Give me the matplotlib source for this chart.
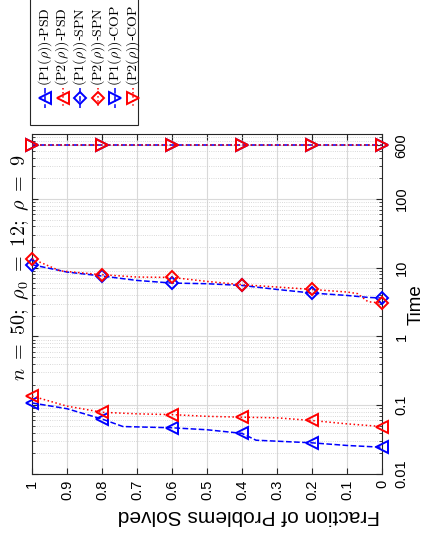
import numpy as np
import matplotlib
matplotlib.use('Agg')
import matplotlib.pyplot as plt
from matplotlib.lines import Line2D
from matplotlib.patches import Rectangle
from matplotlib.ticker import FixedLocator, NullFormatter

plt.rcParams['mathtext.fontset'] = 'cm'
plt.rcParams['font.family'] = ['Liberation Sans', 'DejaVu Sans']

# performance profile, drawn already turned on its side
# (fraction solved runs right->left, time runs bottom->top)
psd1_frac = [1, 0.9, 0.8, 0.74, 0.6, 0.5, 0.4, 0.36, 0.3, 0.2, 0.1, 0]
psd1_time = [0.108, 0.089, 0.063, 0.049, 0.047, 0.044, 0.039, 0.031, 0.030, 0.0284, 0.026, 0.0245]

psd2_frac = [1, 0.9, 0.8, 0.7, 0.6, 0.5, 0.4, 0.3, 0.2, 0.1, 0]
psd2_time = [0.136, 0.097, 0.079, 0.075, 0.073, 0.069, 0.067, 0.0656, 0.060, 0.0536, 0.049]

spn1_frac = [1, 0.9, 0.8, 0.7, 0.6, 0.5, 0.4, 0.3, 0.2, 0.1, 0.04, 0]
spn1_time = [11.06, 8.65, 7.57, 6.53, 5.98, 5.85, 5.52, 4.83, 4.28, 3.95, 3.7, 3.62]

spn2_frac = [1, 0.92, 0.8, 0.7, 0.6, 0.5, 0.4, 0.3, 0.2, 0.1, 0.07, 0.04, 0]
spn2_time = [13.5, 9.0, 7.91, 7.32, 7.22, 6.32, 5.66, 5.24, 4.83, 4.43, 4.2, 3.2, 3.06]

cop1_frac = [1, 0.8, 0.6, 0.4, 0.2, 0]
cop1_time = [600, 600, 600, 600, 600, 600]
cop2_frac = [1, 0.8, 0.6, 0.4, 0.2, 0]
cop2_time = [600, 600, 600, 600, 600, 600]

labels = [r'$\mathrm{(P1(}\rho\mathrm{))}$-$\mathrm{PSD}$',
          r'$\mathrm{(P2(}\rho\mathrm{))}$-$\mathrm{PSD}$',
          r'$\mathrm{(P1(}\rho\mathrm{))}$-$\mathrm{SPN}$',
          r'$\mathrm{(P2(}\rho\mathrm{))}$-$\mathrm{SPN}$',
          r'$\mathrm{(P1(}\rho\mathrm{))}$-$\mathrm{COP}$',
          r'$\mathrm{(P2(}\rho\mathrm{))}$-$\mathrm{COP}$']

series = [(psd1_frac, psd1_time, 'b', '--', '<'),
          (psd2_frac, psd2_time, 'r', ':', '<'),
          (spn1_frac, spn1_time, 'b', '--', 'D'),
          (spn2_frac, spn2_time, 'r', ':', 'D'),
          (cop1_frac, cop1_time, 'b', '--', '>'),
          (cop2_frac, cop2_time, 'r', ':', '>')]

W, H = 425, 538
fig = plt.figure(figsize=(W/100, H/100), dpi=100)
ax = fig.add_axes([32/W, 1-474/H, 350/W, 340/H])

def marks(fr):
    return [i for i, f in enumerate(fr) if abs(f*5 - round(f*5)) < 1e-9]

for fr, t, c, ls, m in series:
    ms = 6 if m == 'D' else 8
    ax.plot(fr, t, color=c, ls=ls, lw=1.1, marker=m, ms=ms, mfc='none',
            mew=1.4, markevery=marks(fr), clip_on=False, zorder=3)

ax.set_xlim(1, 0)
ax.set_yscale('log')
ax.set_ylim(0.01, 880)
ax.xaxis.set_major_locator(FixedLocator(np.arange(0, 1.01, 0.1)))
ax.set_xticklabels(['0', '0.1', '0.2', '0.3', '0.4', '0.5', '0.6', '0.7', '0.8', '0.9', '1'],
                   rotation=90, fontsize=10.5)
ax.yaxis.tick_right()
ax.set_yticks([0.01, 0.1, 1, 10, 100, 600])
ax.set_yticklabels(['0.01', '0.1', '1', '10', '100', '600'], rotation=90, va='center', fontsize=10.5)
ax.yaxis.set_minor_formatter(NullFormatter())
ax.tick_params(which='both', direction='in', top=True, bottom=True, left=True, right=True,
               color='0.15')
ax.tick_params(axis='x', pad=4)
ax.tick_params(axis='y', pad=9)
ax.tick_params(which='major', length=4)
ax.tick_params(which='minor', length=2)

ax.grid(True, which='major', color='0.85', lw=0.8)
ax.grid(True, which='minor', axis='y', color='0.8', ls=':', lw=0.6)
for s in ax.spines.values():
    s.set_color('0.15')
    s.set_linewidth(0.8)

ax.set_xlabel('Fraction of Problems Solved', rotation=180, fontsize=15)
ax.xaxis.set_label_coords((249-32)/350, -(516-474)/340)
ax.set_ylabel('Time', rotation=90, fontsize=13.5)
ax.yaxis.set_label_position('right')
ax.yaxis.set_label_coords((416-32)/350, (474-305)/340)
ax.yaxis.label.set_va('center')
ax.xaxis.label.set_va('center')

fig.text(20/W, 1-268/H, r'$n\ =\ 50;\ \rho_0\ =\ 12;\ \rho\ =\ 9$', rotation=90,
         ha='center', va='center', fontsize=14.5)

# legend, drawn by hand so that it turns with the rest
fig.patches.append(Rectangle((30/W, 1-125/H), 108/W, 127/H, transform=fig.transFigure,
                             fill=True, fc='white', ec='0.15', lw=0.8))
for k, (lab, (fr, t, c, ls, m)) in enumerate(zip(labels, series)):
    x = (45 + 17.6*k)/W
    ms = 6 if m == 'D' else 8
    fig.add_artist(Line2D([x, x], [1-88/H, 1-108/H], color=c, ls=ls, lw=1.1,
                          transform=fig.transFigure))
    fig.add_artist(Line2D([x], [1-98/H], color=c, marker=m, ms=ms, mfc='none', mew=1.4,
                          transform=fig.transFigure))
    fig.text(x, 1-86/H, lab, rotation=90, ha='center', va='bottom', fontsize=10)

fig.savefig('out.png', dpi=100)
